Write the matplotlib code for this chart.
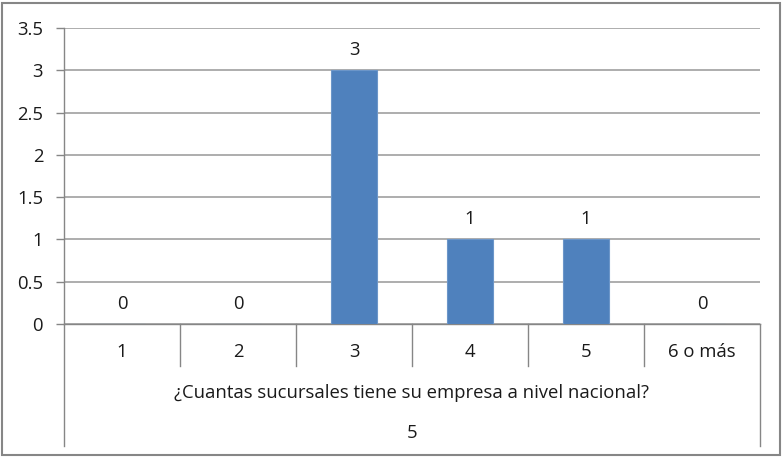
import matplotlib.pyplot as plt
from matplotlib.patches import Rectangle

categorias = ['1', '2', '3', '4', '5', '6 o más']
valores = [0, 0, 3, 1, 1, 0]
y_ticks = [0, 0.5, 1, 1.5, 2, 2.5, 3, 3.5]
y_tick_labels = ['0', '0.5', '1', '1.5', '2', '2.5', '3', '3.5']
titulo_eje = '¿Cuantas sucursales tiene su empresa a nivel nacional?'
total = '5'

plt.rcParams['font.family'] = ['Open Sans', 'DejaVu Sans']
fs = 13.3

W, H = 784, 457
fig = plt.figure(figsize=(W/100, H/100), dpi=100)

# plot area in pixels: x 64..760, y 28..324
ax = fig.add_axes([64/W, 1-324/H, (760-64)/W, (324-28)/H])

x = list(range(len(categorias)))
ax.bar(x, valores, width=0.4, color='#4F81BD', edgecolor='#6C96C9', linewidth=0.8, zorder=3)

for xi, v in zip(x, valores):
    ax.annotate(str(v), (xi, v), xytext=(0, 8), textcoords='offset points',
                ha='center', va='bottom', fontsize=fs, color='#1a1a1a')

ax.set_xlim(-0.5, len(categorias)-0.5)
ax.set_ylim(0, 3.5)
ax.set_yticks(y_ticks)
ax.set_yticklabels(y_tick_labels, fontsize=fs, color='#1a1a1a')
ax.tick_params(axis='y', length=6, color='#868686', width=1, pad=9)
ax.set_xticks([])
ax.grid(axis='y', color='#A0A0A0', linewidth=1.2, zorder=0)
ax.set_axisbelow(True)

for s in ['top', 'right']:
    ax.spines[s].set_visible(False)
for s in ['left', 'bottom']:
    ax.spines[s].set_color('#868686')
    ax.spines[s].set_linewidth(1)

# category table below the axis
trans = ax.get_xaxis_transform()
for b in range(1, len(categorias)):
    ax.plot([b-0.5, b-0.5], [0, -0.142], transform=trans, color='#868686', lw=1, clip_on=False)
ax.plot([-0.5, -0.5], [0, -0.412], transform=trans, color='#868686', lw=1, clip_on=False)
ax.plot([len(categorias)-0.5]*2, [0, -0.412], transform=trans, color='#868686', lw=1, clip_on=False)

for xi, c in zip(x, categorias):
    ax.text(xi, -0.095, c, transform=trans, ha='center', va='center', fontsize=fs, color='#1a1a1a')

mid = (len(categorias)-1)/2
ax.text(mid, -0.233, titulo_eje, transform=trans, ha='center', va='center', fontsize=fs, color='#1a1a1a')
ax.text(mid, -0.368, total, transform=trans, ha='center', va='center', fontsize=fs, color='#1a1a1a')

# outer border
fig.patches.append(Rectangle((2/W, 2/H), 778/W, 452/H, transform=fig.transFigure,
                             fill=False, edgecolor='#868686', linewidth=1.5))

fig.savefig('out.png', dpi=100)
